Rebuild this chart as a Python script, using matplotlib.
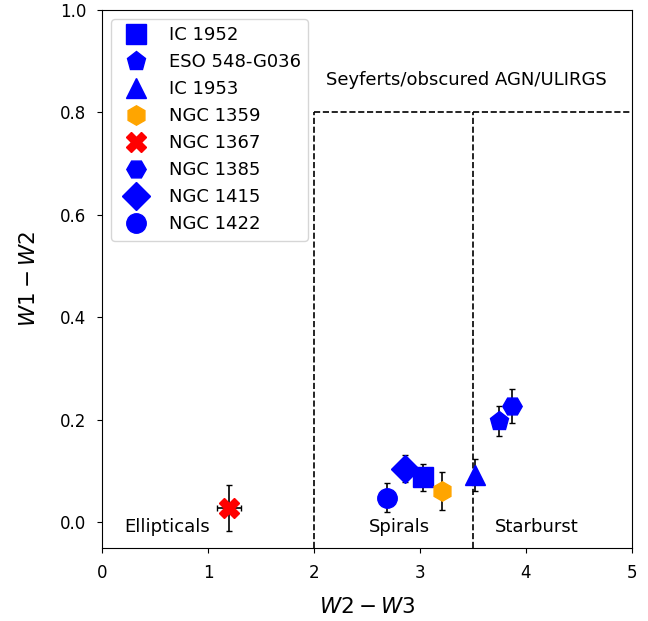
import matplotlib
matplotlib.use("Agg")
import matplotlib.pyplot as plt

# WISE colour-colour values per galaxy
names = ["IC 1952", "ESO 548-G036", "IC 1953", "NGC 1359", "NGC 1367",
         "NGC 1385", "NGC 1415", "NGC 1422"]
w2_w3 = [3.03, 3.745, 3.52, 3.21, 1.20, 3.87, 2.86, 2.69]
w1_w2 = [0.088, 0.198, 0.093, 0.061, 0.028, 0.227, 0.105, 0.048]
w1_w2_err = [0.026, 0.030, 0.031, 0.037, 0.044, 0.034, 0.026, 0.028]
w2_w3_err = [0.0, 0.0, 0.0, 0.0, 0.115, 0.0, 0.0, 0.0]
markers = ["s", "p", "^", "h", "X", "H", "D", "o"]
colors = ["blue", "blue", "blue", "orange", "red", "blue", "blue", "blue"]

fig = plt.figure(figsize=(6.48, 6.21), dpi=100)
ax = fig.add_axes([0.1574, 0.1176, 0.8179, 0.8663])

for i in range(len(names)):
    ax.errorbar(w2_w3[i], w1_w2[i], yerr=w1_w2_err[i],
                xerr=w2_w3_err[i] if w2_w3_err[i] > 0 else None,
                fmt="none", ecolor="black", elinewidth=1.2, capsize=2, zorder=2)
    ax.plot(w2_w3[i], w1_w2[i], linestyle="none", marker=markers[i],
            color=colors[i], markersize=14, label=names[i], zorder=3)

# region boundaries
ax.plot([2, 5], [0.8, 0.8], "k--", lw=1.2)
ax.plot([2, 2], [-0.05, 0.8], "k--", lw=1.2)
ax.plot([3.5, 3.5], [-0.05, 0.8], "k--", lw=1.2)

ax.text(3.44, 0.863, "Seyferts/obscured AGN/ULIRGS", ha="center", va="center", fontsize=13)
ax.text(0.61, -0.009, "Ellipticals", ha="center", va="center", fontsize=13)
ax.text(2.81, -0.009, "Spirals", ha="center", va="center", fontsize=13)
ax.text(4.1, -0.009, "Starburst", ha="center", va="center", fontsize=13)

ax.set_xlim(0, 5)
ax.set_ylim(-0.05, 1.0)
ax.set_xlabel(r"$W2-W3$", fontsize=15.5, labelpad=11)
ax.set_ylabel(r"$W1-W2$", fontsize=15.5, labelpad=15)
ax.tick_params(labelsize=12, pad=8)
ax.legend(loc="upper left", fontsize=13)

fig.savefig("out.png", dpi=100)
